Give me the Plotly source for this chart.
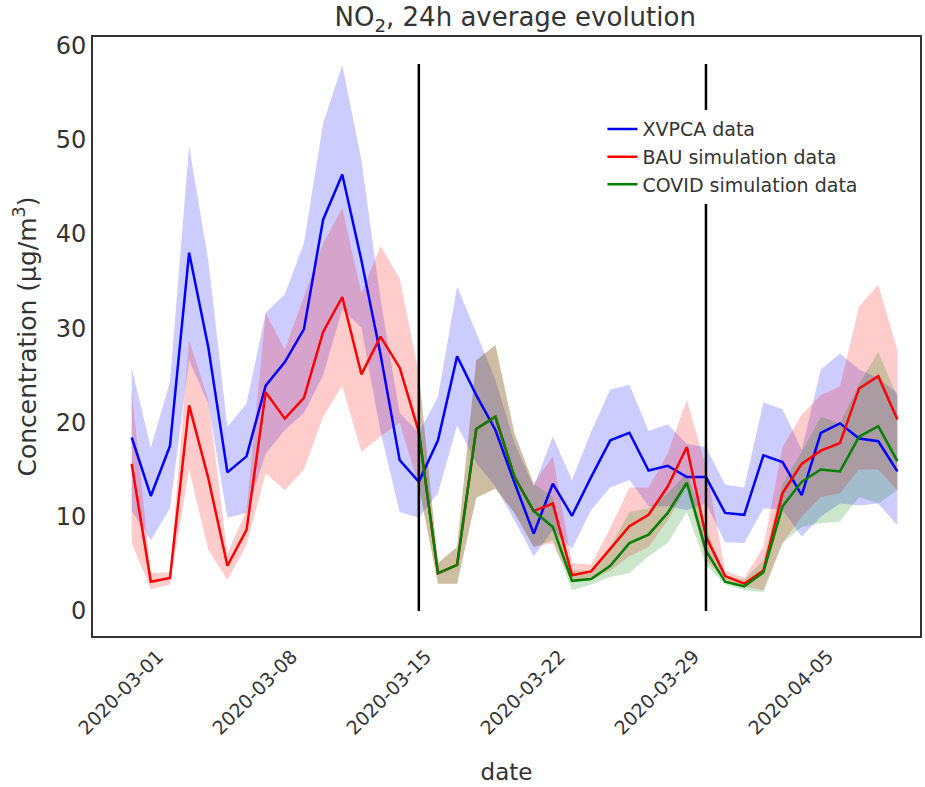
import pandas as pd
import plotly.graph_objects as go

dates = pd.date_range("2020-02-29", "2020-04-09", freq="D")

xvpca = [18.4, 12.2, 17.5, 38.0, 28.0, 14.7, 16.4, 23.9, 26.4, 29.9,
         41.5, 46.3, 37.2, 27.2, 16.0, 13.7, 18.1, 27.0, 22.9, 19.2,
         13.6, 8.2, 13.5, 10.1, 14.2, 18.1, 18.9, 14.9, 15.4, 14.2,
         14.2, 10.4, 10.2, 16.5, 15.8, 12.3, 18.9, 19.9, 18.3, 18.0, 14.8]
xvpca_hi = [25.8, 17.3, 24.3, 49.3, 37.2, 19.5, 22.0, 31.6, 33.6, 39.0,
            51.7, 57.9, 47.8, 33.0, 21.0, 18.9, 22.7, 34.4, 29.5, 24.5,
            17.8, 13.2, 18.5, 13.9, 19.0, 23.5, 24.0, 19.1, 19.8, 17.7,
            17.4, 13.4, 13.1, 22.1, 21.4, 17.1, 25.6, 27.3, 25.6, 24.7, 23.1]
xvpca_lo = [10.6, 7.5, 10.9, 26.6, 22.0, 9.9, 10.4, 16.7, 19.2, 21.0,
            25.0, 32.0, 30.0, 19.0, 10.5, 9.9, 12.5, 19.7, 15.7, 13.2,
            9.6, 5.8, 8.6, 6.6, 10.7, 13.1, 13.9, 11.1, 11.1, 10.7,
            11.4, 7.3, 7.2, 10.9, 10.7, 7.9, 10.0, 11.4, 11.2, 11.4, 9.1]

bau = [15.6, 3.1, 3.5, 21.8, 14.1, 4.8, 8.6, 23.2, 20.4, 22.6,
       29.6, 33.3, 25.1, 29.1, 25.8, 19.0, 4.0, 4.9, 19.3, 20.6,
       14.2, 10.6, 11.4, 3.8, 4.2, 6.6, 9.0, 10.2, 13.2, 17.4,
       7.9, 3.7, 2.9, 4.3, 12.5, 15.6, 17.0, 17.8, 23.6, 24.9, 20.3]
bau_hi = [23.4, 4.0, 4.1, 28.7, 22.4, 6.1, 10.7, 31.6, 27.7, 33.3,
          39.0, 42.7, 33.7, 38.7, 35.3, 25.2, 5.1, 6.8, 26.6, 28.2,
          18.8, 13.5, 16.4, 5.1, 4.9, 8.8, 13.1, 13.1, 16.7, 22.4,
          15.3, 4.3, 3.5, 6.8, 17.4, 20.8, 22.9, 23.8, 32.3, 34.6, 27.7]
bau_lo = [7.2, 2.3, 2.8, 15.0, 6.5, 3.3, 7.0, 14.6, 12.8, 15.0,
          20.6, 23.9, 16.9, 18.5, 20.0, 13.2, 2.9, 2.9, 12.0, 13.0,
          10.4, 6.8, 7.2, 3.1, 3.3, 4.3, 5.8, 6.8, 9.6, 13.2,
          5.4, 3.3, 2.6, 2.2, 7.2, 10.0, 12.1, 12.5, 15.0, 15.0, 12.8]

covid_dates = dates[15:]
covid = [19.0, 4.0, 4.9, 19.3, 20.6, 14.2, 10.6, 8.9, 3.2, 3.4,
         4.8, 7.2, 8.1, 10.4, 13.6, 6.4, 3.1, 2.6, 4.1, 11.1,
         13.7, 15.0, 14.8, 18.5, 19.6, 15.9]
covid_hi = [25.2, 5.1, 6.8, 26.6, 28.2, 18.8, 13.5, 12.1, 4.3, 4.3,
            6.8, 10.5, 10.9, 12.5, 14.6, 8.9, 3.8, 3.3, 5.4, 13.5,
            16.9, 20.6, 19.9, 24.1, 27.5, 22.7]
covid_lo = [13.2, 2.9, 2.9, 12.0, 13.0, 10.4, 6.8, 7.5, 2.2, 2.8,
            3.6, 4.0, 5.8, 7.2, 10.5, 4.9, 2.8, 2.2, 2.0, 7.2,
            8.9, 9.3, 9.5, 12.1, 11.4, 12.8]

vlines = ["2020-03-15", "2020-03-30"]
vline_top = 58
tick_dates = ["2020-03-01", "2020-03-08", "2020-03-15", "2020-03-22", "2020-03-29", "2020-04-05"]

fig = go.Figure()

def band(x, lo, hi, fillcol):
    fig.add_trace(go.Scatter(x=x, y=lo, mode="lines", line=dict(width=0),
                             showlegend=False, hoverinfo="skip"))
    fig.add_trace(go.Scatter(x=x, y=hi, mode="lines", line=dict(width=0),
                             fill="tonexty", fillcolor=fillcol,
                             showlegend=False, hoverinfo="skip"))

band(dates, xvpca_lo, xvpca_hi, "rgba(0,0,255,0.2)")
band(dates, bau_lo, bau_hi, "rgba(255,0,0,0.2)")
band(covid_dates, covid_lo, covid_hi, "rgba(0,128,0,0.2)")

fig.add_trace(go.Scatter(x=dates, y=xvpca, mode="lines", name="XVPCA data",
                         line=dict(color="#0000ff", width=2.5)))
fig.add_trace(go.Scatter(x=dates, y=bau, mode="lines", name="BAU simulation data",
                         line=dict(color="#ff0000", width=2.5)))
fig.add_trace(go.Scatter(x=covid_dates, y=covid, mode="lines", name="COVID simulation data",
                         line=dict(color="#008000", width=2.5)))

for d in vlines:
    fig.add_shape(type="line", x0=d, x1=d, y0=0, y1=vline_top, xref="x", yref="y",
                  line=dict(color="black", width=2.5), layer="above")

fig.update_layout(
    width=925, height=787,
    margin=dict(l=93, r=5, t=37, b=151, autoexpand=False),
    plot_bgcolor="white", paper_bgcolor="white",
    font=dict(family="DejaVu Sans", color="#333333"),
    title=dict(text="NO<sub>2</sub>, 24h average evolution", x=0.557, xanchor="center",
               y=0.978, yanchor="middle", font=dict(size=26, color="#333333")),
    xaxis=dict(range=["2020-02-26 23:30", "2020-04-10 04:20"],
               tickvals=tick_dates, ticktext=tick_dates, tickangle=-45,
               tickfont=dict(size=19), showgrid=False, zeroline=False,
               showline=True, linecolor="#333333", linewidth=2, mirror=True,
               ticks="", automargin=False, ticklabelshift=7,
               title=dict(text="date", font=dict(size=23), standoff=26)),
    yaxis=dict(range=[-2.65, 60.87], tickvals=[0, 10, 20, 30, 40, 50, 60],
               tickfont=dict(size=24), showgrid=False, zeroline=False,
               showline=True, linecolor="#333333", linewidth=2, mirror=True,
               ticks="", automargin=False,
               title=dict(text="Concentration (μg/m<sup>3</sup>)", font=dict(size=25), standoff=12)),
    legend=dict(x=0.616, y=0.878, xanchor="left", yanchor="top", traceorder="normal",
                bgcolor="white", borderwidth=0, font=dict(size=19, color="#333333"),
                tracegroupgap=0),
)

fig.write_html("out.html", config={"displayModeBar": False},
               post_script="document.body.style.margin='0';")
